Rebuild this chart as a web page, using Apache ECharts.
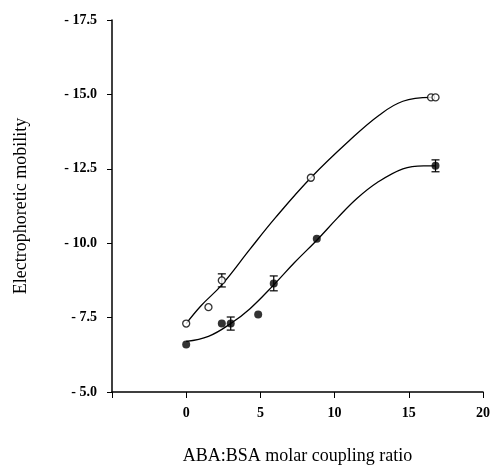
<!DOCTYPE html>
<html>
<head>
<meta charset="utf-8">
<script src="https://cdn.jsdelivr.net/npm/echarts@6/dist/echarts.min.js"></script>
<style>
  html, body { margin: 0; padding: 0; background: #fff; }
  #chart { width: 493px; height: 470px; }
</style>
</head>
<body>
<div id="chart"></div>
<script>
// Open circles: measured mobility (x = coupling ratio, y = mobility)
const openX = [0, 1.5, 2.4, 8.4, 16.5, 16.8];
const openY = [-7.3, -7.85, -8.75, -12.2, -14.9, -14.9];
const openErr = [0, 0, 0.22, 0, 0, 0];

// Filled circles
const filledX = [0, 2.4, 3.0, 4.85, 5.9, 8.8, 16.8];
const filledY = [-6.6, -7.3, -7.3, -7.6, -8.65, -10.15, -12.6];
const filledErr = [0, 0, 0.22, 0, 0.25, 0, 0.2];

// Fitted curves
const fitOpenX = [0, 1, 2.4, 4.3, 6, 8.4, 11, 13, 14.6, 16.5];
const fitOpenY = [-7.3, -7.9, -8.6, -9.8, -10.85, -12.2, -13.45, -14.3, -14.77, -14.9];
const fitFilledX = [0, 1.5, 3, 4.3, 5.9, 7.3, 8.8, 10.2, 11.5, 12.85, 14.6, 16.0, 16.8];
const fitFilledY = [-6.7, -6.87, -7.3, -7.8, -8.6, -9.35, -10.1, -10.85, -11.5, -12.03, -12.5, -12.6, -12.6];

// Axis ticks
const xTicks = [-5, 0, 5, 10, 15, 20];
const yTicks = [-17.5, -15.0, -12.5, -10.0, -7.5, -5.0];

const pairs = (xs, ys) => xs.map((x, i) => [x, ys[i]]);
const errRows = (xs, ys, es) => xs.map((x, i) => [x, ys[i] - es[i], ys[i] + es[i]]).filter((r, i) => es[i] > 0);

function errorBar(params, api) {
  const x = api.value(0);
  const lo = api.coord([x, api.value(1)]);
  const hi = api.coord([x, api.value(2)]);
  const w = 4;
  const style = { stroke: '#000', lineWidth: 1.2 };
  return {
    type: 'group',
    children: [
      { type: 'line', shape: { x1: lo[0], y1: lo[1], x2: hi[0], y2: hi[1] }, style },
      { type: 'line', shape: { x1: lo[0] - w, y1: lo[1], x2: lo[0] + w, y2: lo[1] }, style },
      { type: 'line', shape: { x1: hi[0] - w, y1: hi[1], x2: hi[0] + w, y2: hi[1] }, style }
    ]
  };
}

const font = '"Liberation Serif", "DejaVu Serif", serif';
const chart = echarts.init(document.getElementById('chart'));
chart.setOption({
  animation: false,
  backgroundColor: '#fff',
  grid: { left: 112, right: 10, top: 20, bottom: 77 },
  xAxis: {
    type: 'value',
    min: xTicks[0], max: xTicks[xTicks.length - 1], interval: 5,
    name: 'ABA:BSA molar coupling ratio',
    nameLocation: 'middle', nameGap: 55,
    nameTextStyle: { fontFamily: font, fontSize: 18, color: '#000' },
    axisLine: { onZero: false, lineStyle: { color: '#000', width: 1.5 } },
    axisTick: { show: true, length: 6, inside: false, lineStyle: { color: '#000', width: 1 } },
    axisLabel: {
      fontFamily: font, fontSize: 14, fontWeight: 'bold', color: '#000', margin: 14,
      formatter: v => (v === xTicks[0] ? '' : String(v))
    },
    splitLine: { show: false }
  },
  yAxis: {
    type: 'value',
    inverse: true,
    min: yTicks[0], max: yTicks[yTicks.length - 1], interval: 2.5,
    name: 'Electrophoretic mobility',
    nameLocation: 'middle', nameGap: 82,
    nameTextStyle: { fontFamily: font, fontSize: 18, color: '#000' },
    axisLine: { onZero: false, lineStyle: { color: '#000', width: 1.5 } },
    axisTick: { show: true, length: 5, lineStyle: { color: '#000', width: 1 } },
    axisLabel: {
      fontFamily: font, fontSize: 14, fontWeight: 'bold', color: '#000', margin: 15,
      formatter: v => '- ' + Math.abs(v).toFixed(1)
    },
    splitLine: { show: false }
  },
  series: [
    {
      type: 'line', data: pairs(fitOpenX, fitOpenY), smooth: 0.4, showSymbol: false,
      lineStyle: { color: '#000', width: 1.3 }, z: 2
    },
    {
      type: 'line', data: pairs(fitFilledX, fitFilledY), smooth: 0.4, showSymbol: false,
      lineStyle: { color: '#000', width: 1.3 }, z: 2
    },
    {
      type: 'custom', renderItem: errorBar, data: errRows(openX, openY, openErr), z: 3
    },
    {
      type: 'custom', renderItem: errorBar, data: errRows(filledX, filledY, filledErr), z: 3
    },
    {
      type: 'scatter', data: pairs(openX, openY), symbol: 'circle', symbolSize: 7,
      itemStyle: { color: '#fff', borderColor: '#000', borderWidth: 1.3 }, z: 4
    },
    {
      type: 'scatter', data: pairs(filledX, filledY), symbol: 'circle', symbolSize: 8,
      itemStyle: { color: '#000' }, z: 4
    }
  ]
});
</script>
</body>
</html>
